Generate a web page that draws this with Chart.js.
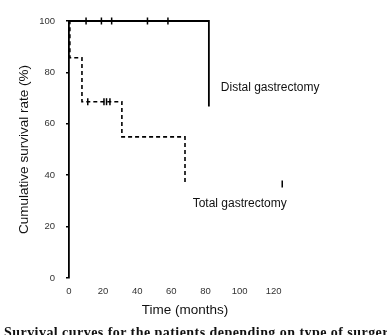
<!DOCTYPE html>
<html>
<head>
<meta charset="utf-8">
<script src="https://cdn.jsdelivr.net/npm/chart.js@4.4.1/dist/chart.umd.min.js"></script>
<style>
  html, body { margin: 0; padding: 0; background: #fff; }
  #wrap { position: relative; width: 387px; height: 335px; overflow: hidden; }
  #caption {
    position: absolute; left: 4px; top: 325px; white-space: nowrap; line-height: 14px;
    font: bold 14px "Liberation Serif", serif; letter-spacing: 0.45px; color: #111;
  }
</style>
</head>
<body>
<div id="wrap">
  <canvas id="km" width="387" height="335"></canvas>
  <div id="caption">Survival curves for the patients depending on type of surgery</div>
</div>
<script>
// Kaplan-Meier steps (months, % surviving)
const distalTimes = [0, 82];
const distalSurvival = [100, 66.7];
const distalCensorTimes = [10, 19, 25, 46, 58];
const distalCensorSurvival = [100, 100, 100, 100, 100];

const totalTimes = [0, 0.5, 7.6, 31, 68];
const totalSurvival = [100, 85.7, 68.6, 54.9, 36.6];
const totalCensorTimes = [11, 20.5, 22, 24, 125];
const totalCensorSurvival = [68.6, 68.6, 68.6, 68.6, 36.6];

const xTickValues = [0, 20, 40, 60, 80, 100, 120];
const yTickValues = [0, 20, 40, 60, 80, 100];

const toPoints = (xs, ys) => xs.map((x, i) => ({ x: x, y: ys[i] }));

// curve names written next to the curves
const curveLabels = [
  { text: 'Distal gastrectomy', x: 89, y: 74 },
  { text: 'Total gastrectomy', x: 72.5, y: 29 }
];

const labelPlugin = {
  id: 'curveLabels',
  afterDatasetsDraw(chart) {
    const { ctx, scales } = chart;
    ctx.save();
    ctx.font = '12px "Liberation Sans", Arial, sans-serif';
    ctx.fillStyle = '#111';
    ctx.textBaseline = 'middle';
    curveLabels.forEach((l) => {
      ctx.fillText(l.text, scales.x.getPixelForValue(l.x), scales.y.getPixelForValue(l.y));
    });
    ctx.restore();
  }
};

const censorStyle = {
  type: 'scatter',
  showLine: false,
  pointStyle: 'line',
  rotation: 90,
  pointRadius: 3.5,
  borderColor: '#000',
  borderWidth: 1.5,
  clip: false
};

new Chart(document.getElementById('km').getContext('2d'), {
  type: 'line',
  data: {
    datasets: [
      {
        label: 'Distal gastrectomy',
        data: toPoints(distalTimes, distalSurvival),
        stepped: true,
        borderColor: '#000',
        borderWidth: 1.8,
        pointRadius: 0,
        fill: false,
        clip: false
      },
      {
        label: 'Total gastrectomy',
        data: toPoints(totalTimes, totalSurvival),
        stepped: true,
        borderColor: '#000',
        borderWidth: 1.6,
        borderDash: [4, 3],
        pointRadius: 0,
        fill: false,
        clip: false
      },
      Object.assign({ label: 'Distal censored', data: toPoints(distalCensorTimes, distalCensorSurvival) }, censorStyle),
      Object.assign({ label: 'Total censored', data: toPoints(totalCensorTimes, totalCensorSurvival) }, censorStyle)
    ]
  },
  options: {
    responsive: false,
    animation: false,
    layout: { padding: { left: 16, top: 21, right: 86, bottom: 17 } },
    plugins: { legend: { display: false }, tooltip: { enabled: false } },
    scales: {
      x: {
        type: 'linear',
        min: 0,
        max: 136,
        afterBuildTicks: (scale) => { scale.ticks = xTickValues.map((v) => ({ value: v })); },
        afterFit: (scale) => { scale.height = 40; },
        grid: { display: false, drawTicks: false },
        border: { display: false },
        ticks: { padding: 8, color: '#333', font: { size: 9.5, family: '"Liberation Sans", Arial, sans-serif' } },
        title: {
          display: true,
          text: 'Time (months)',
          color: '#111',
          padding: 0,
          font: { size: 13.5, family: '"Liberation Sans", Arial, sans-serif' }
        }
      },
      y: {
        min: 0,
        max: 100,
        afterBuildTicks: (scale) => { scale.ticks = yTickValues.map((v) => ({ value: v })); },
        afterFit: (scale) => { scale.width = 53; },
        grid: { display: true, drawOnChartArea: false, drawTicks: true, tickLength: 3, color: '#000', lineWidth: 1.5 },
        border: { display: true, color: '#000', width: 1.8 },
        ticks: { padding: 11, color: '#333', font: { size: 9.5, family: '"Liberation Sans", Arial, sans-serif' } },
        title: {
          display: true,
          text: 'Cumulative survival rate (%)',
          color: '#111',
          padding: 0,
          font: { size: 13.5, family: '"Liberation Sans", Arial, sans-serif' }
        }
      }
    }
  },
  plugins: [labelPlugin]
});
</script>
</body>
</html>
